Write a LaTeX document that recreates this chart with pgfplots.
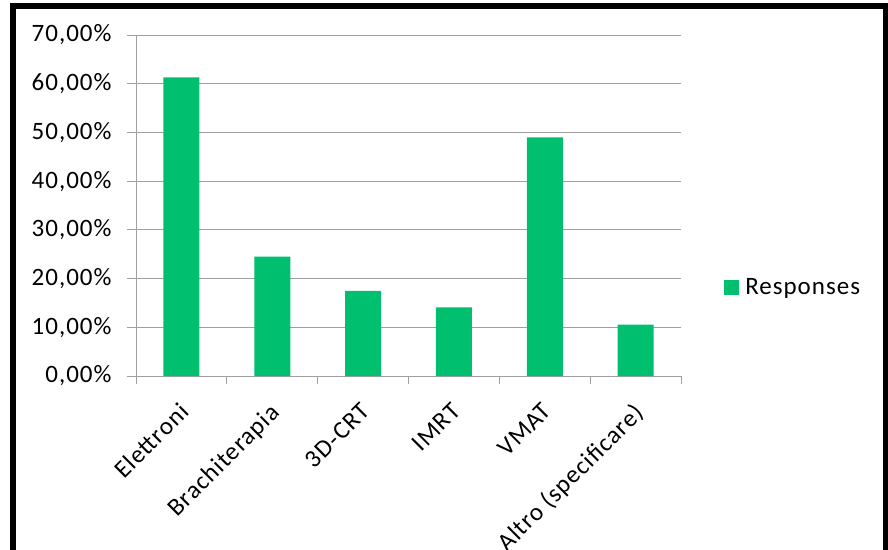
\documentclass[border=0pt]{standalone}
\usepackage{pgfplots}
\pgfplotsset{compat=1.18}
\usepackage{fontspec}
\setmainfont[LetterSpace=4]{Carlito}
\definecolor{barc}{RGB}{0,191,111}
\definecolor{gridc}{RGB}{160,160,160}
\begin{document}
\begin{tikzpicture}[x=1pt,y=1pt]
\useasboundingbox (0,0) rectangle (888,549);
\clip (0,0) rectangle (888,549);
\draw[line width=5.5pt] (13,-20) -- (13,543.2) -- (885.3,543.2) -- (885.3,-20);
\begin{axis}[
  at={(136pt,173pt)}, anchor=south west,
  scale only axis, width=545pt, height=341pt,
  xmin=-0.5, xmax=5.5, ymin=0, ymax=70,
  axis x line*=bottom, axis y line*=left,
  axis line style={gridc, line width=1pt},
  ytick={0,10,...,70},
  yticklabels={{0,00\%},{10,00\%},{20,00\%},{30,00\%},{40,00\%},{50,00\%},{60,00\%},{70,00\%}},
  ymajorgrids, grid style={gridc, line width=1pt},
  xtick={0,...,5},
  xticklabels={Elettroni,Brachiterapia,3D-CRT,IMRT,VMAT,Altro (specificare)},
  minor xtick={-0.5,0.5,...,5.5},
  tick align=outside,
  major tick length=9pt, minor tick length=8pt,
  x tick style={draw=none},
  minor x tick style={draw=gridc, line width=1pt},
  y tick style={gridc, line width=1pt},
  tick label style={font=\fontsize{25}{30}\selectfont, black},
  yticklabel style={xshift=-12pt},
  xticklabel style={rotate=45, anchor=north east, inner sep=2pt, xshift=-12pt, yshift=-7pt},
  legend style={at={(1.079,0.26)}, anchor=west, draw=none, fill=none, inner sep=0pt,
    font=\fontsize{25}{30}\selectfont, /tikz/every odd column/.append style={column sep=4pt}},
  legend image code/.code={\fill[barc] (0pt,-7.5pt) rectangle (15pt,7.5pt);},
]
\addplot[ybar, bar width=36pt, fill=barc, draw=none] coordinates {
  (0,61.3) (1,24.5) (2,17.45) (3,14.1) (4,49.0) (5,10.55)
};
\addlegendentry{Responses}
\end{axis}
\end{tikzpicture}
\end{document}
